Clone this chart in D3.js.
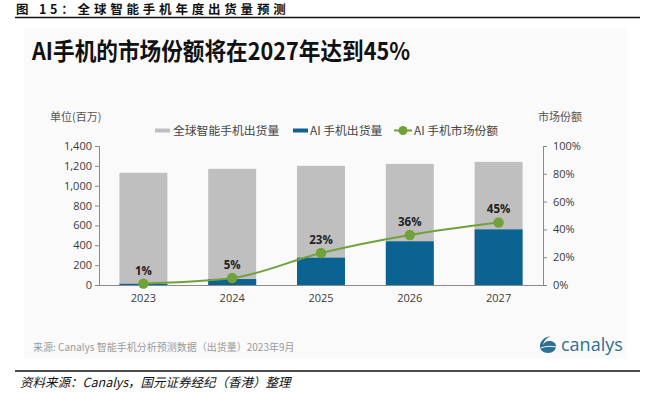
<!DOCTYPE html>
<html>
<head>
<meta charset="utf-8">
<script src="https://cdn.jsdelivr.net/npm/d3@7"></script>
<style>
  body { margin: 0; background: #fff; }
  svg { display: block; font-family: "Noto Sans", "Noto Sans CJK SC", sans-serif; }
</style>
</head>
<body>
<svg id="svg" width="654" height="393"></svg>
<script>
// data
var years = ["2023", "2024", "2025", "2026", "2027"];
var totalShip = [1130, 1170, 1200, 1220, 1240];   // 全球智能手机出货量 (百万)
var aiShip = [12, 60, 275, 440, 560];              // AI 手机出货量 (百万)
var aiShare = [0.01, 0.05, 0.23, 0.36, 0.45];      // AI 手机市场份额
var leftTicks = [0, 200, 400, 600, 800, 1000, 1200, 1400];
var rightTicks = [0, 0.2, 0.4, 0.6, 0.8, 1];
var legendNames = ["全球智能手机出货量", "AI 手机出货量", "AI 手机市场份额"];

var grey = "#bfbfbf", blue = "#0b6391", green = "#71a13b", axisCol = "#8a8a8a";

var svg = d3.select("#svg");

// report caption + rules
svg.append("text").attr("x", 16).attr("y", 14)
  .style("font-family", "'Noto Sans CJK SC'").style("font-weight", "bold")
  .style("font-size", "12.5px").style("letter-spacing", "3.8px").attr("fill", "#111")
  .text("图 15：全球智能手机年度出货量预测");
svg.append("line").attr("x1", 15).attr("x2", 640).attr("y1", 17.5).attr("y2", 17.5)
  .attr("stroke", "#111").attr("stroke-width", 1.6);

// panel
svg.append("rect").attr("x", 24).attr("y", 28).attr("width", 603).attr("height", 331)
  .attr("fill", "#fafafa");

svg.append("text").attr("x", 32).attr("y", 60)
  .style("font-family", "'Noto Sans CJK SC'").style("font-weight", "bold")
  .style("font-size", "24px").attr("fill", "#111")
  .attr("textLength", 378).attr("lengthAdjust", "spacingAndGlyphs")
  .text("AI手机的市场份额将在2027年达到45%");

// scales
var x = d3.scaleBand().domain(years).range([99, 543]).paddingInner(0.46).paddingOuter(0.23);
var yL = d3.scaleLinear().domain([0, 1400]).range([285, 146]);
var yR = d3.scaleLinear().domain([0, 1]).range([285, 146]);

// bars
svg.append("g").selectAll("rect").data(years).join("rect")
  .attr("x", function(d){ return x(d); })
  .attr("width", x.bandwidth())
  .attr("y", function(d, i){ return yL(totalShip[i]); })
  .attr("height", function(d, i){ return yL(0) - yL(totalShip[i]); })
  .attr("fill", grey);
svg.append("g").selectAll("rect").data(years).join("rect")
  .attr("x", function(d){ return x(d); })
  .attr("width", x.bandwidth())
  .attr("y", function(d, i){ return yL(aiShip[i]); })
  .attr("height", function(d, i){ return yL(0) - yL(aiShip[i]); })
  .attr("fill", blue);

// axes
var gl = svg.append("g").attr("transform", "translate(99,0)")
  .call(d3.axisLeft(yL).tickValues(leftTicks).tickSize(4).tickPadding(3).tickFormat(d3.format(",")));
var gr = svg.append("g").attr("transform", "translate(543,0)")
  .call(d3.axisRight(yR).tickValues(rightTicks).tickSize(4).tickPadding(6).tickFormat(d3.format(".0%")));
var gx = svg.append("g").attr("transform", "translate(0,285)")
  .call(d3.axisBottom(x).tickSize(0).tickPadding(9));
[gl, gr, gx].forEach(function(g){
  g.select(".domain").attr("stroke", axisCol);
  g.selectAll(".tick line").attr("stroke", axisCol);
  g.selectAll("text").attr("fill", "#3a3a3a").style("font-size", "11px")
    .style("font-family", "'Open Sans', 'Noto Sans', sans-serif");
});
gx.select(".domain").attr("d", "M99,0.5H543");

// share line
var line = d3.line()
  .x(function(d, i){ return x(years[i]) + x.bandwidth() / 2; })
  .y(function(d){ return yR(d); })
  .curve(d3.curveMonotoneX);
svg.append("path").datum(aiShare).attr("d", line)
  .attr("fill", "none").attr("stroke", green).attr("stroke-width", 2);
svg.append("g").selectAll("circle").data(aiShare).join("circle")
  .attr("cx", function(d, i){ return x(years[i]) + x.bandwidth() / 2; })
  .attr("cy", function(d){ return yR(d); })
  .attr("r", 5.2).attr("fill", green);
svg.append("g").selectAll("text").data(aiShare).join("text")
  .attr("x", function(d, i){ return x(years[i]) + x.bandwidth() / 2; })
  .attr("y", function(d){ return yR(d) - 9; })
  .attr("text-anchor", "middle").attr("fill", "#222")
  .style("font-size", "11.5px").style("font-weight", "bold")
  .style("font-family", "'Open Sans', 'Noto Sans', sans-serif")
  .text(function(d){ return d3.format(".0%")(d); });

// unit labels
svg.append("text").attr("x", 50).attr("y", 121).attr("fill", "#555")
  .style("font-size", "11px").style("font-family", "'Noto Sans CJK SC'").text("单位(百万)");
svg.append("text").attr("x", 538).attr("y", 121).attr("fill", "#555")
  .style("font-size", "11px").style("font-family", "'Noto Sans CJK SC'").text("市场份额");

// legend
var lg = svg.append("g").style("font-family", "'Noto Sans CJK SC'").style("font-size", "11.8px");
lg.append("rect").attr("x", 155).attr("y", 128.5).attr("width", 15).attr("height", 4).attr("fill", grey);
lg.append("text").attr("x", 173).attr("y", 134.5).attr("fill", "#444").text(legendNames[0]);
lg.append("rect").attr("x", 293).attr("y", 128.5).attr("width", 15).attr("height", 4).attr("fill", blue);
lg.append("text").attr("x", 310).attr("y", 134.5).attr("fill", "#444").text(legendNames[1]);
lg.append("line").attr("x1", 394).attr("x2", 412).attr("y1", 130.5).attr("y2", 130.5)
  .attr("stroke", green).attr("stroke-width", 2);
lg.append("circle").attr("cx", 403).attr("cy", 130.5).attr("r", 4.5).attr("fill", green);
lg.append("text").attr("x", 414).attr("y", 134.5).attr("fill", "#444").text(legendNames[2]);

// source + logo
svg.append("text").attr("x", 33).attr("y", 351).attr("fill", "#9a9a9a")
  .style("font-size", "10px").style("font-family", "'Noto Sans CJK SC'")
  .text("来源: Canalys 智能手机分析预测数据（出货量）2023年9月");
var logo = svg.append("g").attr("transform", "translate(548,345)");
logo.append("path")
  .attr("d", "M-1,-8 C-6,-6 -8,-2 -8,1 C-8,5 -5,8 0,8 C5,8 8,5 8,1 C8,-2 5,-4 1,-4 C-2,-4 -4,-2 -5,0 C-4,-4 -2,-7 3,-9 Z")
  .attr("fill", "#2e6f93");
logo.append("path").attr("d", "M-7,3 C-3,1 3,1 8,2").attr("stroke", "#fafafa").attr("stroke-width", 1).attr("fill", "none");
svg.append("text").attr("x", 561).attr("y", 351).attr("fill", "#2e6f93")
  .style("font-size", "18px").style("font-family", "'Open Sans', sans-serif").text("canalys");

svg.append("line").attr("x1", 15).attr("x2", 640).attr("y1", 371).attr("y2", 371)
  .attr("stroke", "#111").attr("stroke-width", 1.6);
svg.append("text").attr("x", 20).attr("y", 387).attr("fill", "#111")
  .style("font-size", "12.5px").style("font-style", "italic").style("font-family", "'Noto Sans CJK SC'")
  .text("资料来源：Canalys，国元证券经纪（香港）整理");
</script>
</body>
</html>
